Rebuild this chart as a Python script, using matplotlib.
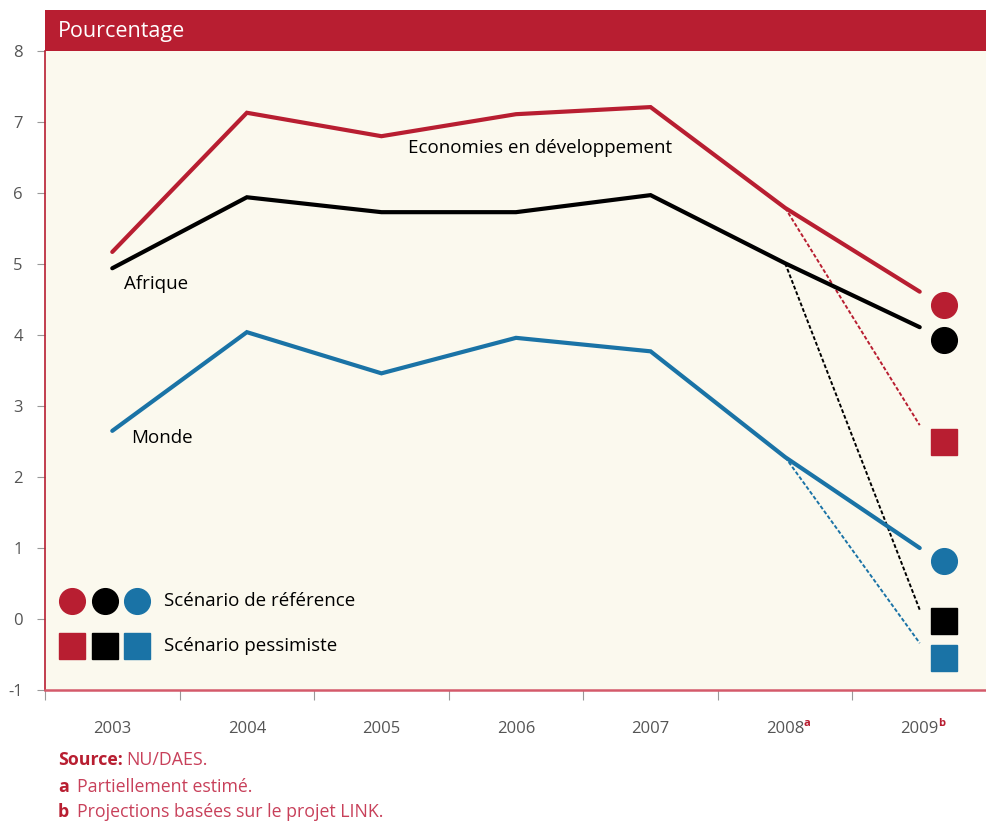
import matplotlib
matplotlib.use("Agg")
import matplotlib.pyplot as plt
from matplotlib.patches import Rectangle

plt.rcParams['font.family'] = ['Open Sans', 'DejaVu Sans']

years = ["2003", "2004", "2005", "2006", "2007", "2008", "2009"]
year_notes = ["", "", "", "", "", "a", "b"]

dev = [5.17, 7.13, 6.80, 7.11, 7.21, 5.79, 4.61]
afr = [4.94, 5.94, 5.73, 5.73, 5.97, 5.01, 4.11]
world = [2.65, 4.04, 3.46, 3.96, 3.77, 2.28, 1.00]

dev_pess_2009 = 2.73
afr_pess_2009 = 0.13
world_pess_2009 = -0.34

dev_ref_marker = 4.42
afr_ref_marker = 3.93
world_ref_marker = 0.82
dev_pess_marker = 2.50
afr_pess_marker = -0.03
world_pess_marker = -0.55

series_names = ["Economies en développement", "Afrique", "Monde"]
legend_labels = ["Scénario de référence", "Scénario pessimiste"]

RED = "#B81E31"
BLACK = "#000000"
BLUE = "#1A73A6"
BG = "#FBF9EE"
GRAY = "#555555"

W, H = 987, 822
fig = plt.figure(figsize=(W / 100, H / 100), dpi=100)

def fx(px):
    return px / W

def fy(py):
    return 1 - py / H

ax_left, ax_right, ax_top, ax_bottom = 45, 987, 51, 690
ax = fig.add_axes([fx(ax_left), fy(ax_bottom), fx(ax_right - ax_left), (ax_bottom - ax_top) / H])
ax.set_facecolor(BG)

# Title band
fig.patches.append(Rectangle((fx(45), fy(51)), fx(987 - 45), (51 - 10) / H,
                             transform=fig.transFigure, facecolor=RED, edgecolor='none', zorder=0))
fig.text(fx(58), fy(32), "Pourcentage", color="white", fontsize=15.5, va="center", ha="left")

x = list(range(len(years)))
lw = 3.0
for vals, pess, col in [(dev, dev_pess_2009, RED), (afr, afr_pess_2009, BLACK), (world, world_pess_2009, BLUE)]:
    ax.plot(x, vals, color=col, lw=lw, solid_capstyle='round', solid_joinstyle='miter', zorder=3)
    ax.plot([x[5], x[6]], [vals[5], pess], color=col, lw=1.4, ls=(0, (2.0, 1.1)), zorder=2)

mx = x[6] + 0.18
for v, col in [(dev_ref_marker, RED), (afr_ref_marker, BLACK), (world_ref_marker, BLUE)]:
    ax.plot([mx], [v], marker='o', ms=18.5, color=col, mec=col, ls='none', zorder=4)
for v, col in [(dev_pess_marker, RED), (afr_pess_marker, BLACK), (world_pess_marker, BLUE)]:
    ax.plot([mx], [v], marker='s', ms=18.5, color=col, mec=col, ls='none', zorder=4)

# Series labels
ax.text(2.20, 6.63, series_names[0], fontsize=13.5, color=BLACK, ha='left', va='center')
ax.text(0.085, 4.72, series_names[1], fontsize=13.5, color=BLACK, ha='left', va='center')
ax.text(0.14, 2.55, series_names[2], fontsize=13.5, color=BLACK, ha='left', va='center')

# Legend
lx = [-0.30, -0.055, 0.185]
for xx, col in zip(lx, [RED, BLACK, BLUE]):
    ax.plot([xx], [0.25], marker='o', ms=18.5, color=col, mec=col, ls='none')
    ax.plot([xx], [-0.38], marker='s', ms=18.5, color=col, mec=col, ls='none')
ax.text(0.385, 0.25, legend_labels[0], fontsize=13.5, color=BLACK, ha='left', va='center')
ax.text(0.385, -0.38, legend_labels[1], fontsize=13.5, color=BLACK, ha='left', va='center')

ax.set_xlim(-0.5, (ax_right - ax_left) / 136.8 - 0.5)
ax.set_ylim(-1, 8)
ax.set_yticks(range(-1, 9))
ax.set_yticklabels([str(v) for v in range(-1, 9)])
ax.set_xticks(x)
ax.set_xticklabels(years)
ax.set_xticks([i - 0.5 for i in range(len(years) + 1)], minor=True)
ax.tick_params(axis='x', which='major', length=0, pad=22, labelsize=12, labelcolor=GRAY)
ax.tick_params(axis='x', which='minor', length=7, width=0.8, color='#999999', direction='out')
ax.tick_params(axis='y', which='major', length=6, width=0.8, color='#999999', labelsize=12,
               labelcolor=GRAY, pad=10)

for s in ['top', 'right']:
    ax.spines[s].set_visible(False)
ax.spines['left'].set_color(RED)
ax.spines['left'].set_linewidth(1.2)
ax.spines['bottom'].set_color('#D45A6B')
ax.spines['bottom'].set_linewidth(1.8)

for i, note in enumerate(year_notes):
    if note:
        ax.annotate(note, xy=(x[i], 0), xycoords=('data', 'axes fraction'),
                    xytext=(13, -24), textcoords='offset points', fontsize=8,
                    fontweight='bold', color=RED, ha='left', va='center')

# Footnotes
FOOT = "#C8405A"
fs = 12.8
fig.text(fx(58), fy(760), "Source:", fontsize=fs, fontweight='bold', color=RED, ha='left', va='center')
fig.text(fx(126), fy(760), "NU/DAES.", fontsize=fs, color=FOOT, ha='left', va='center')
fig.text(fx(58), fy(787), "a", fontsize=fs, fontweight='bold', color=RED, ha='left', va='center')
fig.text(fx(77), fy(787), "Partiellement estimé.", fontsize=fs, color=FOOT, ha='left', va='center')
fig.text(fx(58), fy(812), "b", fontsize=fs, fontweight='bold', color=RED, ha='left', va='center')
fig.text(fx(77), fy(812), "Projections basées sur le projet LINK.", fontsize=fs, color=FOOT, ha='left', va='center')

fig.savefig("out.png", dpi=100, facecolor='white')
